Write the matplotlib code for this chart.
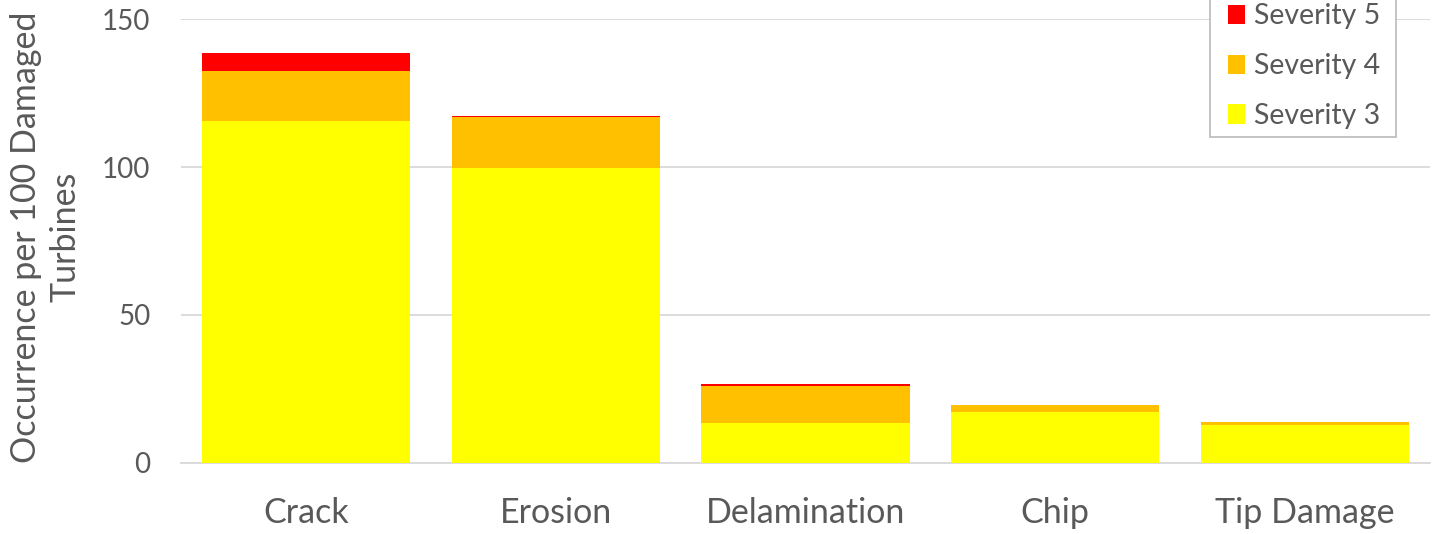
import matplotlib.pyplot as plt
from matplotlib.patches import Rectangle
import numpy as np

# Blade damage occurrence per 100 damaged turbines, split by severity
damage_types = ["Crack", "Erosion", "Delamination", "Chip", "Tip Damage"]
severity_3 = [115.6, 99.6, 13.3, 17.1, 12.8]
severity_4 = [16.9, 17.2, 12.7, 2.4, 0.8]
severity_5 = [6.1, 0.5, 0.5, 0.0, 0.0]
y_ticks = [0, 50, 100, 150]

text_color = "#595959"
grid_color = "#d9d9d9"
plt.rcParams["font.family"] = ["Lato", "DejaVu Sans"]

W, H = 1434, 534
fig = plt.figure(figsize=(W / 100, H / 100), dpi=100)
ax = fig.add_axes([181 / W, 71.5 / H, 1249 / W, 443.2 / H])

x = np.arange(len(damage_types))
width = 0.833
s3 = np.array(severity_3)
s4 = np.array(severity_4)
s5 = np.array(severity_5)

b3 = ax.bar(x, s3, width, color="#ffff00", label="Severity 3", zorder=3)
b4 = ax.bar(x, s4, width, bottom=s3, color="#ffc000", label="Severity 4", zorder=3)
b5 = ax.bar(x, s5, width, bottom=s3 + s4, color="#ff0000", label="Severity 5", zorder=3)

ax.set_xlim(-0.5, len(damage_types) - 0.5)
ax.set_ylim(0, 150)
ax.set_yticks(y_ticks)
ax.set_xticks(x)
ax.set_xticklabels(damage_types)
ax.yaxis.grid(True, color=grid_color, linewidth=1.3, zorder=0)
ax.set_axisbelow(True)
for side in ["top", "right", "left"]:
    ax.spines[side].set_visible(False)
ax.spines["bottom"].set_color(grid_color)
ax.spines["bottom"].set_linewidth(1.3)
ax.tick_params(axis="both", length=0, colors=text_color)
ax.tick_params(axis="y", pad=22, labelsize=20)
ax.tick_params(axis="x", pad=25, labelsize=24.5)

fig.text(
    46 / W,
    (H - 237) / H,
    "Occurrence per 100 Damaged\nTurbines",
    rotation=90,
    ha="center",
    va="center",
    multialignment="center",
    fontsize=24.5,
    color=text_color,
    linespacing=1.3,
)

# legend box runs off the top edge, so the frame is drawn separately
ax.add_patch(
    Rectangle(
        (1210 / W, (H - 137) / H),
        186 / W,
        0.3,
        transform=fig.transFigure,
        facecolor="white",
        edgecolor="#bfbfbf",
        linewidth=1.3,
        clip_on=False,
        zorder=4,
    )
)
leg = ax.legend(
    handles=[b5, b4, b3],
    loc="lower left",
    bbox_to_anchor=(1228 / W, (H - 129) / H),
    bbox_transform=fig.transFigure,
    fontsize=20.5,
    frameon=False,
    handlelength=0.6,
    handleheight=0.65,
    handletextpad=0.3,
    labelspacing=0.84,
    borderpad=0,
    borderaxespad=0,
    labelcolor=text_color,
)

fig.savefig("out.png", dpi=100)
